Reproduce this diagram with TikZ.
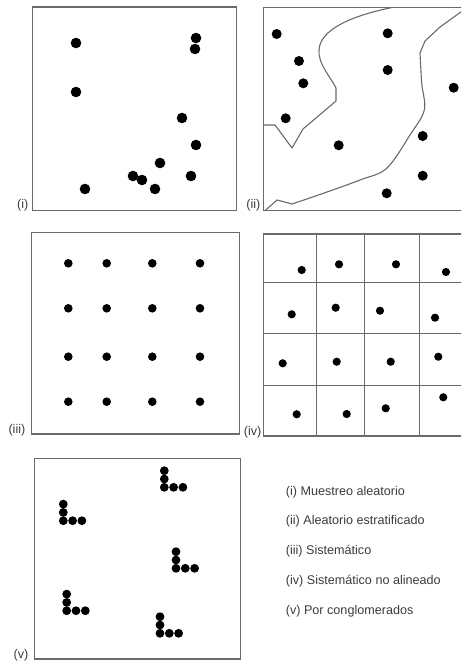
\documentclass[tikz,border=0pt]{standalone}
\usepackage{fontspec}
\setmainfont{Liberation Sans}
\definecolor{boxgray}{HTML}{6A6A6A}
\definecolor{txtgray}{HTML}{3C3C3C}
\tikzset{
  panel/.style={draw=boxgray, line width=1.2pt},
  bound/.style={draw=boxgray, line width=1.1pt, line join=round},
  lbl/.style={text=txtgray, font=\fontsize{12.6}{15}\selectfont, inner sep=0pt},
  legend/.style={text=txtgray, font=\fontsize{12.6}{15}\selectfont, inner sep=0pt, anchor=west},
}
\begin{document}
\begin{tikzpicture}[x=1pt,y=-1pt]
\useasboundingbox (0,0) rectangle (461,664);
\clip (0,0) rectangle (461,664);
\fill[white] (0,0) rectangle (461,664);

% ---------- (i) random ----------
\draw[panel] (32.3,7) rectangle (236.7,210.7);
\foreach \x/\y in {76/43,196/38,195/49,76/92,182/118,196/145,160/163,133/176,142/180,191/176,85/189,155/189}
  \fill[black] (\x,\y) circle (5.3);
\node[lbl, anchor=east] (li) at (28.5,205) {(i)};

% ---------- (ii) stratified ----------
\draw[panel] (470,7.3) -- (263.3,7.3) -- (263.3,210.7) -- (470,210.7);
\foreach \x/\y in {276.7/34,387.7/33.3,299/61,387.7/70,303.3/83.3,453.7/87.7,285.7/118.3,338.7/145.3,422.7/136,422.7/175.7,386.7/193.3}
  \fill[black] (\x,\y) circle (5);
\draw[bound] (263.3,125) -- (275,125) -- (292,148) -- (303,129) -- (336,101) -- (336,88)
  .. controls (330,76) and (318,64) .. (319,50)
  .. controls (320,30) and (350,16) .. (393,7.3);
\draw[bound] (465,9) -- (440,27) -- (425,41)
  -- plot[smooth, tension=0.55] coordinates {(420,53) (421.7,83.3) (424.3,110) (410,135) (386.7,168.3) (360,180) (323.3,193.3) (292,204)}
  -- (277,200) -- (265,210.7);
\node[lbl, anchor=east] (lii) at (260.5,205) {(ii)};

% ---------- (iii) systematic ----------
\draw[panel] (31.7,232.3) rectangle (239.3,434);
\foreach \x in {68.3,106.7,152.3,200}
  \foreach \y in {263.3,308.3,356.7,401.7}
    \fill[black] (\x,\y) circle (4.3);
\node[lbl, anchor=east] (liii) at (25.5,430.5) {(iii)};

% ---------- (iv) systematic unaligned ----------
\draw[panel] (480,234) -- (263.3,234) -- (263.3,436) -- (480,436);
\foreach \x in {316,364,419}
  \draw[boxgray, line width=1pt] (\x,234) -- (\x,436);
\foreach \y in {282.7,333.3,385.7}
  \draw[boxgray, line width=1pt] (263.3,\y) -- (480,\y);
\foreach \x/\y in {301.7/270,339/264.3,396/264.3,446/272,
                   291.7/314.3,335.7/307.7,380/310.7,435/317.7,
                   282.7/363.3,336.7/361.7,390.7/361.7,438.3/356.7,
                   296.7/414.3,346.7/414,385.7/408.3,443.3/397.3}
  \fill[black] (\x,\y) circle (4.1);
\node[lbl, anchor=east] (liv) at (261.5,432) {(iv)};

% ---------- (v) cluster ----------
\draw[panel] (34.3,458.3) rectangle (240.7,659);
\foreach \cx/\cy in {63.3/520.7,164.3/487.3,176/568.3,66.7/610.7,160/633.3}{
  \foreach \dy in {0,-8.3,-16.6}
    \fill[black] (\cx,\cy+\dy) circle (4.4);
  \foreach \dx in {9.3,18.6}
    \fill[black] (\cx+\dx,\cy) circle (4.4);
}
\node[lbl, anchor=east] (lv) at (28.5,655) {(v)};

% ---------- legend ----------
\node[legend] (g1) at (285.7,492.7) {(i) Muestreo aleatorio};
\node[legend] (g2) at (285.7,521.7) {(ii) Aleatorio estratificado};
\node[legend] (g3) at (285.7,551) {(iii) Sistemático};
\node[legend] (g4) at (285.7,581) {(iv) Sistemático no alineado};
\node[legend] (g5) at (285.7,611) {(v) Por conglomerados};
\end{tikzpicture}
\end{document}
